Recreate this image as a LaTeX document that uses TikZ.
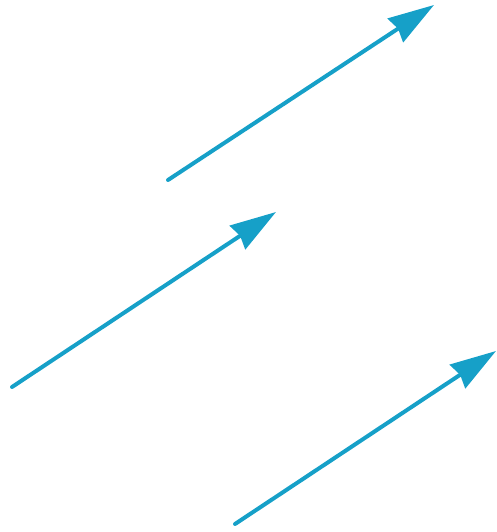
\documentclass[tikz,border=0pt]{standalone}
\usepackage{tikz}
\usetikzlibrary{arrows.meta}
\definecolor{vecblue}{RGB}{22,160,200}

\begin{document}
\begin{tikzpicture}[
    x=1pt, y=-1pt,
    vec/.style={-{Stealth[length=46pt, width=28pt, inset=3pt]}, line width=4pt,
                draw=vecblue, fill=vecblue, line cap=round},
]
\useasboundingbox (0,0) rectangle (496,532);
\coordinate (u0) at (168,180);
\coordinate (u1) at (434,5);
\coordinate (v0) at (12,387);
\coordinate (v1) at (276,212);
\coordinate (w0) at (235,524);
\coordinate (w1) at (496,351);
\draw[vec] (u0) -- (u1);
\draw[vec] (v0) -- (v1);
\draw[vec] (w0) -- (w1);
\end{tikzpicture}
\end{document}
